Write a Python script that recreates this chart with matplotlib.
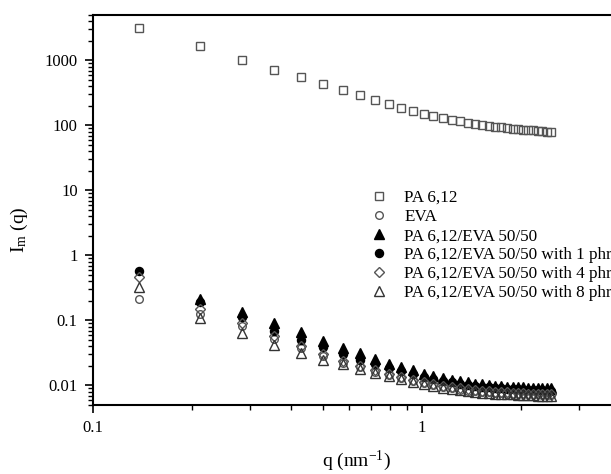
import numpy as np
import matplotlib
matplotlib.use("Agg")
import matplotlib.pyplot as plt
from matplotlib.ticker import LogLocator, NullFormatter, FixedFormatter, FixedLocator

plt.rcParams['font.family'] = ['Liberation Serif', 'DejaVu Serif']
plt.rcParams['mathtext.fontset'] = 'custom'
plt.rcParams['mathtext.rm'] = 'Liberation Serif'
plt.rcParams['mathtext.it'] = 'Liberation Serif:italic'

# scattering vector q (nm^-1)
q = [0.138, 0.211, 0.284, 0.356, 0.429, 0.502, 0.575, 0.648, 0.720, 0.793,
     0.866, 0.939, 1.012, 1.084, 1.157, 1.230, 1.303, 1.376, 1.448, 1.521,
     1.594, 1.667, 1.740, 1.812, 1.885, 1.958, 2.031, 2.104, 2.176, 2.249,
     2.322, 2.395, 2.468]

pa612 = [3110, 1650, 1007, 716, 553, 432, 349, 289, 248, 213,
         187, 167, 152, 140, 130, 123, 116, 110, 106, 102,
         99, 96, 93.5, 91.5, 89.5, 88, 86.5, 85, 84, 82.5,
         81.5, 80.5, 79.5]
eva = [0.217, 0.125, 0.082, 0.052, 0.038, 0.028, 0.0225, 0.019, 0.0162, 0.0144,
       0.0129, 0.0117, 0.0108, 0.0101, 0.0095, 0.0090, 0.0086, 0.0083, 0.0081, 0.0079,
       0.0078, 0.0077, 0.0076, 0.0075, 0.0075, 0.0074, 0.0074, 0.0073, 0.0073, 0.0073,
       0.0072, 0.0072, 0.0072]
blend = [np.nan, 0.213, 0.137, 0.091, 0.066, 0.049, 0.038, 0.031, 0.0256, 0.0217,
         0.0192, 0.0170, 0.0150, 0.0139, 0.0130, 0.0122, 0.0116, 0.0111, 0.0107, 0.0104,
         0.0101, 0.0099, 0.0097, 0.0096, 0.0095, 0.0094, 0.0093, 0.0092, 0.0092, 0.0091,
         0.0091, 0.0090, 0.0090]
phr1 = [0.583, 0.19, 0.113, 0.070, 0.0506, 0.0386, 0.030, 0.025, 0.021, 0.0187,
        0.0165, 0.0148, 0.0135, 0.0125, 0.0117, 0.0111, 0.0106, 0.0102, 0.0099, 0.0096,
        0.0094, 0.0092, 0.0090, 0.0089, 0.0088, 0.0087, 0.0086, 0.0085, 0.0085, 0.0084,
        0.0084, 0.0083, 0.0083]
phr4 = [0.472, 0.151, 0.090, 0.057, 0.041, 0.030, 0.0236, 0.0200, 0.0170, 0.0150,
        0.0134, 0.0121, 0.0112, 0.0105, 0.0099, 0.0094, 0.0090, 0.0087, 0.0084, 0.0082,
        0.0081, 0.0080, 0.0079, 0.0078, 0.0077, 0.0076, 0.0076, 0.0075, 0.0075, 0.0075,
        0.0074, 0.0074, 0.0074]
phr8 = [0.332, 0.109, 0.064, 0.0425, 0.0317, 0.025, 0.021, 0.018, 0.0156, 0.0139,
        0.0125, 0.0114, 0.0105, 0.0098, 0.0092, 0.0088, 0.0084, 0.0081, 0.0079, 0.0077,
        0.0076, 0.0075, 0.0074, 0.0073, 0.0073, 0.0072, 0.0072, 0.0071, 0.0071, 0.0070,
        0.0070, 0.0069, 0.0069]

labels = ['PA 6,12', 'EVA', 'PA 6,12/EVA 50/50',
          'PA 6,12/EVA 50/50 with 1 phr', 'PA 6,12/EVA 50/50 with 4 phr',
          'PA 6,12/EVA 50/50 with 8 phr']

fig = plt.figure(figsize=(6.11, 4.74), dpi=100)
ax = fig.add_axes([93 / 611, 69 / 474, 527 / 611, 390 / 474])

gray = '#555555'
ax.plot(q, pa612, ls='none', marker='s', ms=5.2, mfc='none', mec=gray, mew=1.0, label=labels[0])
ax.plot(q, eva, ls='none', marker='o', ms=5.5, mfc='none', mec=gray, mew=1.0, label=labels[1])
ax.plot(q, blend, ls='none', marker='^', ms=6.5, mfc='black', mec='black', mew=1.0, label=labels[2])
ax.plot(q, phr1, ls='none', marker='o', ms=5.8, mfc='black', mec='black', mew=1.0, label=labels[3])
ax.plot(q, phr4, ls='none', marker='D', ms=4.8, mfc='none', mec=gray, mew=1.0, label=labels[4])
ax.plot(q, phr8, ls='none', marker='^', ms=6.8, mfc='none', mec='#333333', mew=1.0, label=labels[5])

ax.set_xscale('log')
ax.set_yscale('log')
ax.set_xlim(0.1, 4)
ax.set_ylim(0.005, 5000)

ax.xaxis.set_major_locator(FixedLocator([0.1, 1]))
ax.xaxis.set_major_formatter(FixedFormatter(['0.1', '1']))
ax.xaxis.set_minor_locator(LogLocator(base=10, subs=np.arange(2, 10)))
ax.xaxis.set_minor_formatter(NullFormatter())
yt = [0.01, 0.1, 1, 10, 100, 1000]
ax.yaxis.set_major_locator(FixedLocator(yt))
ax.yaxis.set_major_formatter(FixedFormatter(['0.01', '0.1', '1', '10', '100', '1000']))
ax.yaxis.set_minor_locator(LogLocator(base=10, subs=np.arange(2, 10), numticks=20))
ax.yaxis.set_minor_formatter(NullFormatter())

ax.tick_params(which='major', direction='out', length=6, width=1.2, labelsize=12, pad=5)
ax.tick_params(which='minor', direction='out', length=3.5, width=1.0)
ax.tick_params(top=False, right=False)
for s in ax.spines.values():
    s.set_linewidth(1.5)

ax.set_xlabel('q (nm$^{-1}$)', fontsize=14)
ax.set_ylabel('I$_\\mathrm{m}$ (q)', fontsize=14)
ax.xaxis.set_label_coords(0.5, -0.112)
ax.yaxis.set_label_coords(-0.12, 0.45)

ax.legend(loc='upper left', bbox_to_anchor=(370 / 611, 1 - 190 / 474),
          bbox_transform=fig.transFigure, frameon=False, fontsize=12.3,
          numpoints=1, handlelength=1.0, handletextpad=1.0,
          labelspacing=0.18, borderpad=0, borderaxespad=0)

fig.savefig('out.png', dpi=100)
